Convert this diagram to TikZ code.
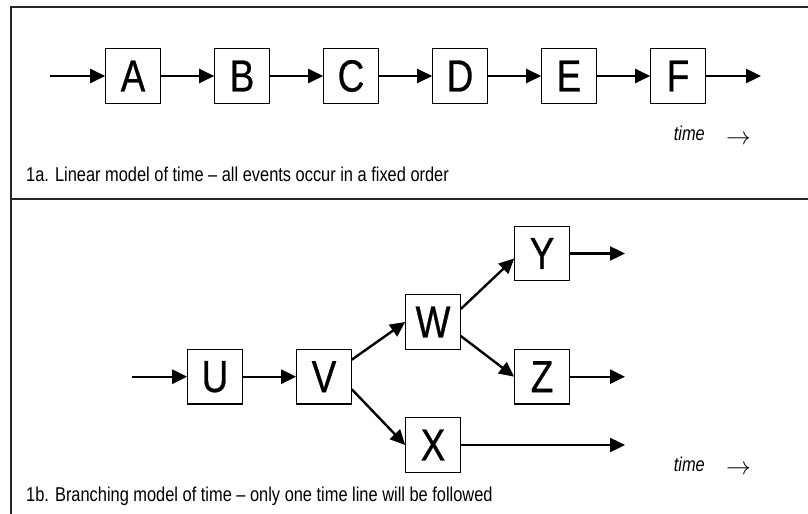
\documentclass[tikz,border=0pt]{standalone}
\usepackage{fontspec}
\newfontfamily\narrow[FakeStretch=0.82]{Liberation Sans}
\newfontfamily\narrowbox[FakeStretch=0.82,FakeBold=0.6]{Liberation Sans}
\usetikzlibrary{arrows.meta,calc}
\begin{document}
\begin{tikzpicture}[x=1bp,y=-1bp,
  ev/.style={draw, line width=1.1bp, minimum width=54.5bp, minimum height=54.5bp, inner sep=0pt,
    font=\narrowbox\fontsize{45bp}{45bp}\selectfont},
  conn/.style={line width=2.4bp, -{Triangle[length=15bp,width=14bp]}},
  framel/.style={line width=2bp, draw=black!85},
  captext/.style={anchor=base west, inner sep=0pt, font=\narrow\fontsize{20bp}{24bp}\selectfont},
  timelbl/.style={anchor=base east, inner sep=0pt, font=\narrow\itshape\fontsize{20bp}{24bp}\selectfont},
  timearr/.style={inner sep=0pt, font=\fontsize{30bp}{30bp}\selectfont}]
\useasboundingbox (0,0) rectangle (808,514);
% frame
\draw[framel] (10.5,514) -- (10.5,6.7) -- (808,6.7);
\draw[framel] (10.5,199) -- (808,199);

% 1a linear
\coordinate (a0) at (50,76);
\node[ev] (A) at (133,76) {A};
\node[ev] (B) at (242,76) {B};
\node[ev] (C) at (351,76) {C};
\node[ev] (D) at (460,76) {D};
\node[ev] (E) at (569,76) {E};
\node[ev] (F) at (678,76) {F};
\coordinate (a1) at (761,76);
\draw[conn] (a0) -- (A);
\draw[conn] (A) -- (B);
\draw[conn] (B) -- (C);
\draw[conn] (C) -- (D);
\draw[conn] (D) -- (E);
\draw[conn] (E) -- (F);
\draw[conn] (F) -- (a1);
\node[timelbl] (ta) at (705,140.7) {time};
\node[timearr] (tarra) at (738.5,140) {$\rightarrow$};
\node[captext] (capa) at (26,181.7) {1a. Linear model of time – all events occur in a fixed order};

% 1b branching
\coordinate (b0) at (132.3,376.7);
\node[ev] (U) at (215,376.7) {U};
\node[ev] (V) at (324,376.7) {V};
\node[ev] (W) at (433,322) {W};
\node[ev] (Y) at (542,253.5) {Y};
\node[ev] (Z) at (542,376.7) {Z};
\node[ev] (X) at (433,445) {X};
\coordinate (yend) at (625,253.5);
\coordinate (zend) at (625,376.7);
\coordinate (xend) at (625,445);
\draw[conn] (b0) -- (U);
\draw[conn] (U) -- (V);
\draw[conn] ($(V.east)+(0,-17)$) -- (W.west);
\draw[conn] ($(V.east)+(0,12.6)$) -- (X.west);
\draw[conn] ($(W.east)+(0,-13)$) -- ($(Y.west)+(0,5)$);
\draw[conn] ($(W.east)+(0,14)$) -- (Z.west);
\draw[conn] (Y) -- (yend);
\draw[conn] (Z) -- (zend);
\draw[conn] (X) -- (xend);
\node[timelbl] (tb) at (705,471) {time};
\node[timearr] (tarrb) at (738.5,470) {$\rightarrow$};
\node[captext] (capb) at (26,501.7) {1b. Branching model of time – only one time line will be followed};
\end{tikzpicture}
\end{document}
